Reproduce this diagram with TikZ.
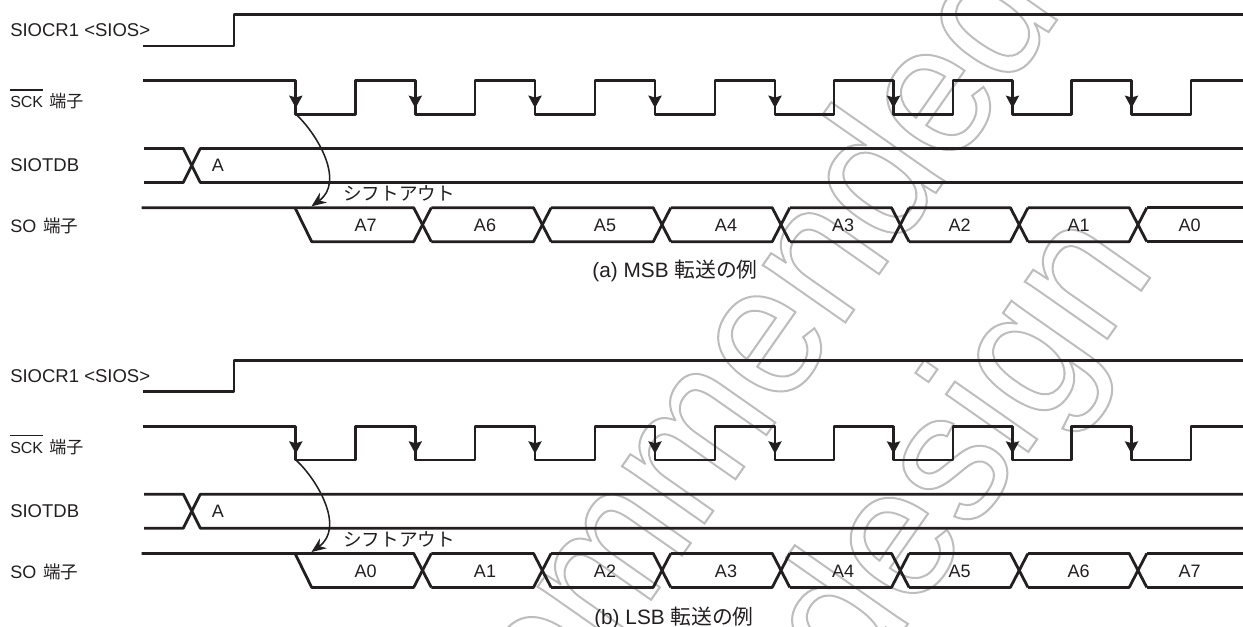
\documentclass[tikz,border=0pt]{standalone}
\usepackage{fontspec}
\usepackage{graphicx}
\usetikzlibrary{arrows.meta}
\setmainfont{Liberation Sans}
\newfontfamily\cjk{Noto Sans CJK JP}
\definecolor{ink}{HTML}{231F20}
\newcommand{\pxfont}[1]{\fontsize{\dimexpr #1pt*3/4\relax}{\dimexpr #1pt*3/4\relax}\selectfont}
\tikzset{
  wave/.style={draw=ink,line width=2.1pt,line join=round,line cap=butt},
  curvearrow/.style={draw=ink,line width=1.15pt,-{Stealth[length=11pt,width=9pt]}},
  lab/.style={anchor=base west,inner sep=0pt,text=ink,font=\pxfont{18.5}},
  cell/.style={anchor=base,inner sep=0pt,text=ink,font=\pxfont{18}},
  shiftlab/.style={anchor=base west,inner sep=0pt,text=ink,font=\pxfont{18.6}\cjk},
  caption/.style={anchor=base,inner sep=0pt,text=ink,font=\pxfont{20.8}},
  wm/.style={anchor=base east,inner sep=0pt,rotate=55,font=\pxfont{190}},
}
\newcommand{\outl}[1]{\special{pdf:code q 1 Tr 0.74 0.74 0.74 RG 1.55 w}\scalebox{0.93}[1]{#1}\special{pdf:code Q}}
% #1 prefix, #2 y offset, #3 caption, #4 caption centre, #5 cell labels, #6 caption baseline
\newcommand{\timingpanel}[6]{%
  \begin{scope}[shift={(0,#2)}]
    \node[lab] (#1sios) at (10,36.6) {SIOCR1 <SIOS>};
    \node[lab,font=\pxfont{16}] (#1sck) at (10,107.3) {SCK};
    \draw[ink,line width=0.9pt] ([yshift=12.9pt]#1sck.base west) -- ([yshift=12.9pt]#1sck.base east);
    \node[lab,font=\pxfont{17}\cjk] (#1scktxt) at (49,107.3) {端子};
    \node[lab] (#1tdb) at (10,172) {SIOTDB};
    \node[lab,font=\pxfont{18}] (#1so) at (10,233) {SO};
    \node[lab,font=\pxfont{17.5}\cjk] (#1sotxt) at (43,233) {端子};
    \node[cell] (#1a) at (218,172) {A};
    \node[shiftlab] (#1shift) at (343,201) {シフトアウト};
    \node[caption] (#1cap) at (#4,#6) {#3};
    \draw[wave] (143,46) -- (234,46) -- (234,14.5) -- (1243,14.5);
    \draw[wave] (143,80.5) -- (295.8,80.5) -- (295.8,114.3)
      \foreach \r/\f in {355.3/415.3,475/535,595/655,715/775,834/893.5,953/1012.5,1071.5/1131.5} {
        -- (\r,114.3) -- (\r,80.5) -- (\f,80.5) -- (\f,114.3)}
      -- (1191,114.3) -- (1191,80.5) -- (1243,80.5);
    \foreach \f in {295.8,415.3,535,655,775,893.5,1012.5,1131.5} {
      \fill[ink] (\f,108) -- (\f+6.8,95.5) -- (\f,97.5) -- (\f-6.8,95.5) -- cycle;
    }
    \draw[wave] (144,148.5) -- (183.3,148.5) -- (200.3,182.5) -- (1243,182.5);
    \draw[wave] (144,182.5) -- (183.3,182.5) -- (200.3,148.5) -- (1243,148.5);
    \draw[wave] (141.5,207.7) -- (413.7,207.7) -- (431.3,241.7);
    \draw[wave] (295,207.7) -- (311.7,241.7) -- (413.7,241.7) -- (431.3,207.7);
    \foreach \c/\n in {422.5/542.3,542.3/662,662/781,781/900.3,900.3/1019.2,1019.2/1138} {
      \draw[wave] ({\c+8.8},207.7) -- ({\n-8.8},207.7) -- ({\n+8.8},241.7);
      \draw[wave] ({\c+8.8},241.7) -- ({\n-8.8},241.7) -- ({\n+8.8},207.7);
    }
    \draw[wave] (1146.8,207.7) -- (1243,207.7);
    \draw[wave] (1146.8,241.7) -- (1243,241.7);
    \foreach \t [count=\i] in {#5} {
      \coordinate (#1cellpos) at ({\ifcase\i\or 365.7\or 485\or 605\or 726\or 843\or 959.7\or 1078.5\or 1189.5\fi},231.7);
      \node[cell] (#1cell\i) at (#1cellpos) {\t};
    }
    \coordinate (#1from) at (296.5,114.8);
    \coordinate (#1to) at (311.5,206.3);
    \draw[curvearrow] (#1from) .. controls (318,135) and (345,182) .. (#1to);
  \end{scope}
}
\begin{document}
\begin{tikzpicture}[x=0.75pt,y=-0.75pt]
  \useasboundingbox (0,0) rectangle (1243,627);
  \fill[white] (0,0) rectangle (1243,627);
  \begin{scope}
    \clip (0,0) rectangle (1243,627);
    \node[wm] (wmone) at (1064,10) {\outl{Not Recommended}};
    \node[wm] (wmtwo) at (1157,268) {\outl{for new design}};
  \end{scope}
  \timingpanel{a}{0}{(a) MSB {\cjk 転送の例}}{675}{A7,A6,A5,A4,A3,A2,A1,A0}{278}
  \timingpanel{b}{345.7}{(b) LSB {\cjk 転送の例}}{674}{A0,A1,A2,A3,A4,A5,A6,A7}{279}
\end{tikzpicture}
\end{document}
